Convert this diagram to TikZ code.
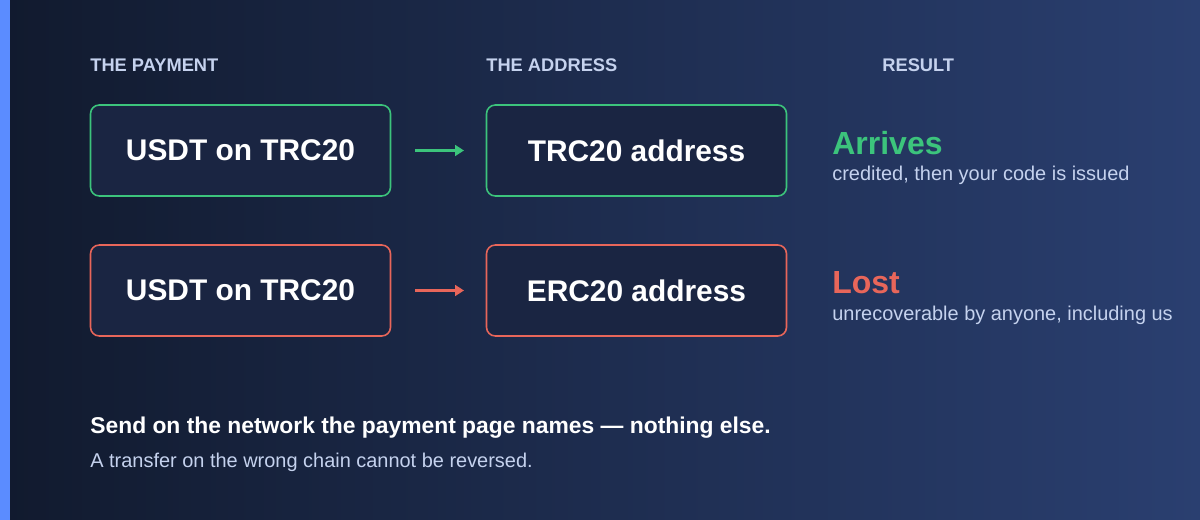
\documentclass[tikz,border=0pt]{standalone}
\usepackage{fontspec}
\setmainfont{Liberation Sans}
\usetikzlibrary{positioning,arrows.meta}
\definecolor{bgleft}{HTML}{111A2E}
\definecolor{bgright}{HTML}{2A3F70}
\definecolor{accent}{HTML}{5B8CFF}
\definecolor{okgreen}{HTML}{3CC47C}
\definecolor{badred}{HTML}{E8665A}
\definecolor{boxfill}{HTML}{1A2542}
\definecolor{softtext}{HTML}{C5D2EE}
\tikzset{%
	header/.style = {anchor=west, inner sep=0pt, text=softtext, font=\bfseries\fontsize{10.4}{12}\selectfont},
	chain/.style  = {draw, line width=0.9pt, rounded corners=5pt, fill=boxfill, minimum width=6cm, minimum height=1.82cm, text=white, font=\bfseries\fontsize{17}{19}\selectfont},
	flow/.style   = {line width=1.3pt, -{Triangle[length=5pt,width=6pt]}},
	verdict/.style= {anchor=west, inner sep=0pt, font=\bfseries\fontsize{18.2}{20}\selectfont},
	note/.style   = {anchor=west, inner sep=0pt, text=softtext, font=\fontsize{11.35}{13}\selectfont},
}
\begin{document}
\begin{tikzpicture}
		\useasboundingbox (0,0) rectangle (24,-10.4);
		\shade[left color=bgleft, right color=bgright] (0,0) rectangle (24,-10.4);
		\fill[accent] (0,0) rectangle (0.2,-10.4);
		
		% column heads
		\node[header] (hpay) at (1.8,-1.31) {THE PAYMENT};
		\node[header] (haddr) at (9.72,-1.31) {THE ADDRESS};
		\node[header] (hres) at (17.64,-1.31) {RESULT};
		
		% good row
		\node[chain, draw=okgreen] (pay1) at (4.81,-3.01) {USDT on TRC20};
		\node[chain, draw=okgreen] (addr1) at (12.73,-3.01) {TRC20 address};
		\coordinate (a1s) at (8.3,-3.01);
		\coordinate (a1e) at (9.28,-3.01);
		\draw[flow, okgreen] (a1s) -- (a1e);
		\node[verdict, text=okgreen] (res1) at (16.64,-2.86) {Arrives};
		\node[note] (sub1) at (16.64,-3.51) {credited, then your code is issued};
		
		% bad row
		\node[chain, draw=badred] (pay2) at (4.81,-5.81) {USDT on TRC20};
		\node[chain, draw=badred] (addr2) at (12.73,-5.81) {ERC20 address};
		\coordinate (a2s) at (8.3,-5.81);
		\coordinate (a2e) at (9.28,-5.81);
		\draw[flow, badred] (a2s) -- (a2e);
		\node[verdict, text=badred] (res2) at (16.64,-5.66) {Lost};
		\node[note] (sub2) at (16.64,-6.31) {unrecoverable by anyone, including us};
		
		% footer
		\node[anchor=west, inner sep=0pt, text=white, font=\bfseries\fontsize{13}{15}\selectfont] (rule) at (1.8,-8.56) {Send on the network the payment page names — nothing else.};
		\node[note] (why) at (1.8,-9.24) {A transfer on the wrong chain cannot be reversed.};
\end{tikzpicture}
\end{document}
